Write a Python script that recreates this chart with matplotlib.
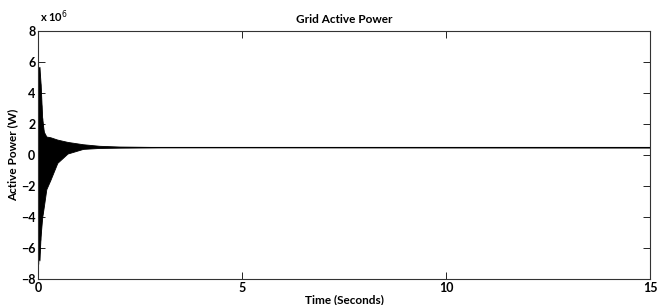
import matplotlib
matplotlib.use("Agg")
import matplotlib.pyplot as plt
import numpy as np

# envelope of the oscillating grid power (x 1e6 W)
env_t = [0.0, 0.03, 0.06, 0.1, 0.14, 0.2, 0.3, 0.47, 0.72, 1.1, 1.5, 2.0, 3.0, 15.0]
env_hi = [3.0, 5.7, 4.6, 2.3, 1.5, 1.2, 1.15, 1.0, 0.85, 0.7, 0.6, 0.55, 0.52, 0.5]
env_lo = [-5.0, -6.8, -5.2, -4.0, -3.3, -2.2, -1.6, -0.5, 0.1, 0.4, 0.46, 0.48, 0.5, 0.5]

# individual transient spikes near t = 0
spike_t = [0.005, 0.015, 0.025, 0.04, 0.055, 0.07, 0.085, 0.1, 0.12]
spike_hi = [2.5, 4.0, 5.7, 3.8, 4.6, 3.2, 2.4, 2.2, 1.6]
spike_lo = [-7.0, -6.3, -6.8, -5.5, -5.2, -4.2, -3.8, -3.7, -3.0]

steady_t = [0.0, 15.0]
steady_p = [0.5, 0.5]

x_ticks = [0, 5, 10, 15]
y_ticks = [-8, -6, -4, -2, 0, 2, 4, 6, 8]

plt.rcParams['font.family'] = ['Lato', 'DejaVu Sans']

fig = plt.figure(figsize=(6.58, 3.05), dpi=100)
ax = fig.add_axes([0.058, 0.085, 0.930, 0.813])

ax.fill_between(env_t, env_lo, env_hi, color='black', lw=0.6)
ax.vlines(spike_t, spike_lo, spike_hi, color='black', lw=1.0)
ax.plot(steady_t, steady_p, color='black', lw=0.8)

ax.set_xlim(0, 15)
ax.set_ylim(-8, 8)
ax.set_xticks(x_ticks)
ax.set_yticks(y_ticks)
ax.tick_params(direction='in', top=True, right=True, length=5, width=0.6,
               labelsize=9, pad=2)
for lab in ax.get_xticklabels() + ax.get_yticklabels():
    lab.set_fontweight('bold')
for s in ax.spines.values():
    s.set_linewidth(0.8)
    s.set_color('#333333')

ax.set_title('Grid Active Power', fontsize=8.5, fontweight='bold', pad=6)
ax.set_xlabel('Time (Seconds)', fontsize=8.5, fontweight='bold', labelpad=0)
ax.set_ylabel('Active Power (W)', fontsize=8.5, fontweight='bold', labelpad=2)
ax.text(0.003, 1.025, r'x 10$^{6}$', transform=ax.transAxes, fontsize=8,
        fontweight='bold', ha='left', va='bottom')

fig.savefig('out.png', dpi=100)
